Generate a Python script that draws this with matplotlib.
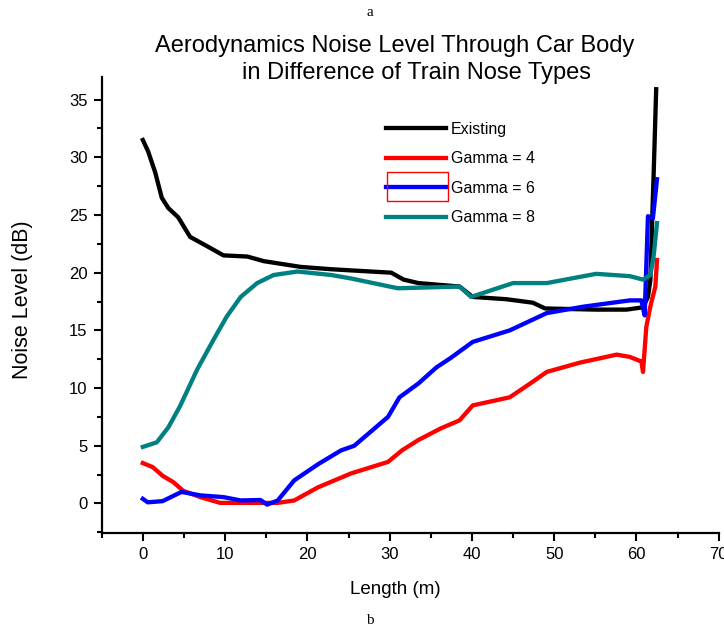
import matplotlib
matplotlib.use("Agg")
import matplotlib.pyplot as plt
from matplotlib.patches import Rectangle
from matplotlib.ticker import MultipleLocator

plt.rcParams["font.family"] = ["Liberation Sans", "DejaVu Sans"]

# --- dados ---
x_existing = [0, 0.65, 1.5, 2.3, 3.1, 4.3, 5.75, 7.8, 9.8, 12.7, 14.7, 19.2, 22.9, 25.3,
              30.2, 31.7, 33.5, 38.5, 40.1, 44.2, 47.4, 48.9, 55.1, 58.8, 60.8, 61.4,
              61.7, 61.9, 62.1, 62.4]
y_existing = [31.5, 30.5, 28.7, 26.5, 25.6, 24.8, 23.1, 22.3, 21.5, 21.4, 21.0, 20.5, 20.3, 20.2,
              20.0, 19.4, 19.1, 18.8, 17.9, 17.7, 17.4, 16.9, 16.8, 16.8, 17.0, 17.9,
              19.4, 24.3, 28.7, 35.9]

x_gamma4 = [0, 1.2, 2.4, 3.7, 4.9, 7.0, 9.4, 13.1, 16.4, 18.4, 21.3, 25.3, 29.8, 31.5, 33.5,
            36.2, 38.5, 40.1, 44.6, 47.1, 49.1, 53.1, 57.6, 59.2, 60.6, 60.8, 61.2, 61.7,
            62.3, 62.5]
y_gamma4 = [3.5, 3.15, 2.4, 1.85, 1.1, 0.55, 0.05, 0.05, 0.05, 0.26, 1.4, 2.6, 3.6, 4.6, 5.5,
            6.5, 7.2, 8.5, 9.2, 10.4, 11.4, 12.2, 12.9, 12.7, 12.3, 11.4, 15.3, 17.1,
            18.8, 21.1]

x_gamma6 = [0, 0.6, 2.4, 4.7, 7.0, 9.8, 11.9, 14.3, 15.1, 16.4, 18.4, 21.3, 24.1, 25.7, 29.8,
            31.2, 33.5, 35.7, 37.4, 40.1, 44.6, 49.1, 53.5, 59.2, 60.6, 61.0, 61.4, 62.0,
            62.5]
y_gamma6 = [0.4, 0.1, 0.2, 1.0, 0.7, 0.55, 0.26, 0.3, -0.1, 0.26, 2.0, 3.4, 4.6, 5.0, 7.5,
            9.2, 10.4, 11.8, 12.6, 14.0, 15.0, 16.5, 17.05, 17.6, 17.6, 16.3, 24.9, 24.7,
            28.1]

x_gamma8 = [0, 1.7, 3.1, 4.5, 6.6, 8.6, 10.2, 11.9, 13.9, 15.9, 18.8, 22.9, 25.3, 31.0,
            38.5, 39.9, 45.0, 49.1, 55.1, 59.2, 60.8, 61.7, 62.1, 62.5]
y_gamma8 = [4.9, 5.3, 6.6, 8.4, 11.6, 14.2, 16.2, 17.9, 19.1, 19.8, 20.1, 19.8, 19.5, 18.65,
            18.8, 17.9, 19.1, 19.1, 19.9, 19.7, 19.4, 19.8, 21.5, 24.3]

W, H = 724, 627
fig = plt.figure(figsize=(W / 100, H / 100), dpi=100)
ax = fig.add_axes([101.7 / W, 1 - 533 / H, 617 / W, 456 / H])

lw = 3.1
ax.plot(x_existing, y_existing, color="black", lw=lw, label="Existing")
ax.plot(x_gamma4, y_gamma4, color="red", lw=lw, label="Gamma = 4")
ax.plot(x_gamma6, y_gamma6, color="blue", lw=lw, label="Gamma = 6")
ax.plot(x_gamma8, y_gamma8, color="#008080", lw=lw, label="Gamma = 8")

ax.set_xlim(-5, 70)
ax.set_ylim(-2.56, 36.96)
ax.xaxis.set_major_locator(MultipleLocator(10))
ax.xaxis.set_minor_locator(MultipleLocator(5))
ax.yaxis.set_major_locator(MultipleLocator(5))
ax.yaxis.set_minor_locator(MultipleLocator(2.5))

for s in ["top", "right"]:
    ax.spines[s].set_visible(False)
for s in ["left", "bottom"]:
    ax.spines[s].set_linewidth(1.6)
ax.tick_params(which="major", direction="out", length=5.8, width=1.5, labelsize=12)
ax.tick_params(which="minor", direction="out", length=3.6, width=1.5)
ax.tick_params(axis="x", pad=4.5)
ax.tick_params(axis="y", pad=4.5)

fig.text(395 / W, 1 - 590 / H, "Length (m)", fontsize=13.5, ha="center", va="center")
fig.text(23 / W, 1 - 300 / H, "Noise Level (dB)", fontsize=15.5, rotation=90,
         ha="center", va="center")

leg = ax.legend(loc="upper left", bbox_to_anchor=(386 / W, 1 - 122 / H),
                bbox_transform=fig.transFigure, frameon=False, fontsize=11.5,
                handlelength=3.75, handletextpad=0.3, labelspacing=0.9, borderpad=0,
                borderaxespad=0)

fig.patches.append(Rectangle((387 / W, 1 - 201 / H), 61 / W, 29 / H, fill=False,
                             ec="red", lw=1, transform=fig.transFigure))

fig.text(395 / W, 1 - 46 / H, "Aerodynamics Noise Level Through Car Body", fontsize=17,
         ha="center", va="center")
fig.text(417 / W, 1 - 73 / H, "in Difference of Train Nose Types", fontsize=17,
         ha="center", va="center")
fig.text(370 / W, 1 - 13 / H, "a", fontsize=11, family="Liberation Serif",
         ha="center", va="center")
fig.text(370 / W, 1 - 620 / H, "b", fontsize=11, family="Liberation Serif",
         ha="center", va="center")

fig.savefig("out.png", dpi=100)
